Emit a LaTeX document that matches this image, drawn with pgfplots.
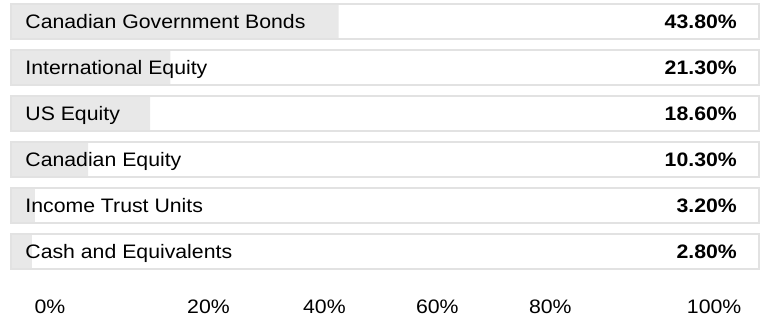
\documentclass[border=0pt]{standalone}
\usepackage{fontspec}
\setmainfont{Liberation Sans}[FakeStretch=1.09]
\usepackage{pgfplots}
\pgfplotsset{compat=1.18}
\definecolor{barfill}{HTML}{E8E8E8}
\definecolor{bordc}{HTML}{E2E2E2}
\tikzset{
  lab/.style={anchor=base west, inner sep=0pt, font=\fontsize{19.5}{22}\selectfont},
  val/.style={anchor=base east, inner sep=0pt, font=\fontsize{19.5}{22}\selectfont\bfseries},
  tk/.style={anchor=base, inner sep=0pt, font=\fontsize{19.5}{22}\selectfont},
}
\begin{document}
\begin{tikzpicture}
\begin{axis}[
  at={(0,0)}, anchor=south west,
  scale only axis, width=766pt, height=316pt,
  xmin=-1.4706, xmax=100.936,
  ymin=0, ymax=316, y dir=reverse,
  axis line style={draw=none}, xtick=\empty, ytick=\empty, clip=false,
]
\addplot[xbar, bar shift=0pt, bar width=35, fill=barfill, draw=none] coordinates {
 (43.8,21.5) (21.3,67.5) (18.6,113.5) (10.3,159.5) (3.2,205.5) (2.8,251.5)};
\addplot[xbar, bar shift=0pt, bar width=35, fill=none, draw=bordc, line width=1.5pt] coordinates {
 (100,21.5) (100,67.5) (100,113.5) (100,159.5) (100,205.5) (100,251.5)};
\node[lab] at (axis cs:1.9,28.2) {Canadian Government Bonds};
\node[lab] at (axis cs:1.9,74.2) {International Equity};
\node[lab] at (axis cs:1.9,120.2) {US Equity};
\node[lab] at (axis cs:1.9,166.2) {Canadian Equity};
\node[lab] at (axis cs:1.9,212.2) {Income Trust Units};
\node[lab] at (axis cs:1.9,258.2) {Cash and Equivalents};
\node[val] at (axis cs:97.06,28.2) {43.80\%};
\node[val] at (axis cs:97.06,74.2) {21.30\%};
\node[val] at (axis cs:97.06,120.2) {18.60\%};
\node[val] at (axis cs:97.06,166.2) {10.30\%};
\node[val] at (axis cs:97.06,212.2) {3.20\%};
\node[val] at (axis cs:97.06,258.2) {2.80\%};
\node[tk] at (axis cs:5.2,313) {0\%};
\node[tk] at (axis cs:26.4,313) {20\%};
\node[tk] at (axis cs:41.9,313) {40\%};
\node[tk] at (axis cs:57.0,313) {60\%};
\node[tk] at (axis cs:72.1,313) {80\%};
\node[tk] at (axis cs:94.0,313) {100\%};
\end{axis}
\end{tikzpicture}
\end{document}
